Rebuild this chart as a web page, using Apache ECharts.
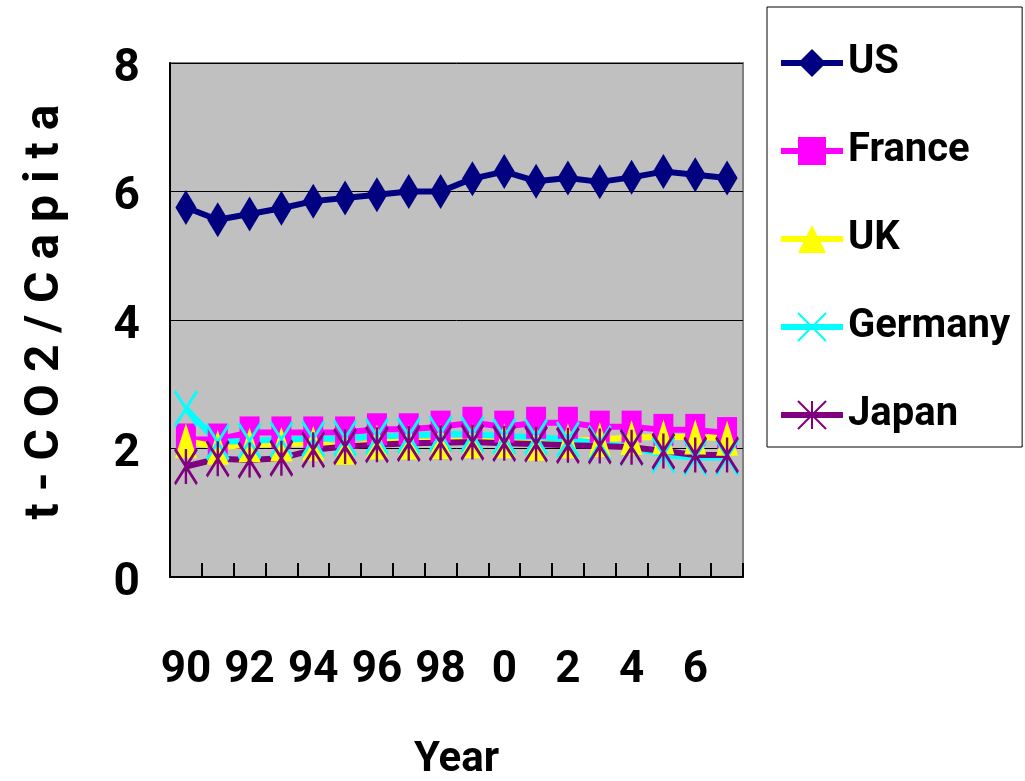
<!DOCTYPE html>
<html>
<head>
<meta charset="utf-8">
<script src="https://cdn.jsdelivr.net/npm/echarts@6/dist/echarts.min.js"></script>
<style>
html,body{margin:0;padding:0;background:#fff;}
#chart{width:1025px;height:781px;}
</style>
</head>
<body>
<div id="chart"></div>
<script>
var categories = ["90","91","92","93","94","95","96","97","98","99","0","1","2","3","4","5","6","7"];
var yTicks = [0, 2, 4, 6, 8];
var usData      = [5.75, 5.56, 5.65, 5.74, 5.85, 5.90, 5.95, 6.00, 6.00, 6.20, 6.31, 6.16, 6.21, 6.15, 6.22, 6.31, 6.26, 6.21];
var franceData  = [2.14, 2.14, 2.25, 2.25, 2.25, 2.25, 2.30, 2.30, 2.34, 2.40, 2.34, 2.40, 2.40, 2.34, 2.34, 2.29, 2.29, 2.24];
var ukData      = [2.12, 2.02, 2.06, 2.07, 2.08, 2.02, 2.10, 2.10, 2.11, 2.12, 2.12, 2.08, 2.12, 2.14, 2.17, 2.18, 2.18, 2.16];
var germanyData = [2.62, 2.10, 2.12, 2.14, 2.15, 2.16, 2.19, 2.20, 2.23, 2.22, 2.19, 2.18, 2.14, 2.08, 2.02, 1.90, 1.86, 1.86];
var japanData   = [1.72, 1.84, 1.82, 1.85, 1.98, 2.03, 2.06, 2.08, 2.09, 2.10, 2.08, 2.07, 2.05, 2.04, 2.02, 1.96, 1.90, 1.90];
var seriesNames = ["US", "France", "UK", "Germany", "Japan"];

var FONT = "Roboto, 'Liberation Sans', sans-serif";
var X_PATH = 'path://M0,0L10,10M10,0L0,10';
var AST_PATH = 'path://M0,0L10,10M10,0L0,10M5,0L5,10';

function lineSeries(name, data, color, symbol, size, stroke) {
  var s = {
    name: name, type: 'line', data: data,
    symbol: symbol, symbolSize: size, showAllSymbol: true,
    lineStyle: { color: color, width: 6 },
    itemStyle: { color: color },
    emphasis: { disabled: true },
    animation: false
  };
  if (stroke) {
    s.itemStyle = { color: color, borderColor: color, borderWidth: 3 };
  }
  return s;
}

var chart = echarts.init(document.getElementById('chart'), null, { renderer: 'canvas' });
chart.setOption({
  backgroundColor: '#ffffff',
  animation: false,
  textStyle: { fontFamily: FONT },
  grid: {
    left: 170, top: 63, width: 573, height: 514,
    show: true, backgroundColor: '#c0c0c0', borderColor: '#808080', borderWidth: 2,
    containLabel: false, outerBoundsMode: 'none'
  },
  legend: {
    orient: 'vertical', left: 767, top: 7,
    padding: [36, 12, 12, 11],
    itemWidth: 62, itemHeight: 35, itemGap: 48, itemTextGap: 10,
    borderColor: '#000', borderWidth: 1, backgroundColor: '#fff',
    lineStyle: { width: 6 },
    textStyle: { fontFamily: FONT, fontWeight: 'bold', fontSize: 40, lineHeight: 35, width: 160, color: '#000' },
    data: seriesNames
  },
  xAxis: {
    type: 'category', data: categories, boundaryGap: true,
    name: 'Year', nameLocation: 'middle', nameGap: 162,
    nameTextStyle: { fontFamily: FONT, fontWeight: 'bold', fontSize: 42, color: '#000' },
    axisLine: { lineStyle: { color: '#000', width: 2 } },
    axisTick: { show: true, inside: true, length: 14, interval: 0, lineStyle: { color: '#000', width: 2 } },
    axisLabel: { interval: 1, margin: 72, fontFamily: FONT, fontWeight: 'bold', fontSize: 44, color: '#000' },
    splitLine: { show: false }
  },
  yAxis: {
    type: 'value', min: yTicks[0], max: yTicks[yTicks.length - 1], interval: 2,
    name: 't - C O 2 / C a p i t a', nameLocation: 'middle', nameGap: 100, nameRotate: 90,
    nameTextStyle: { fontFamily: FONT, fontWeight: 'bold', fontSize: 48, color: '#000', padding: [0, 0, 0, 16] },
    axisLine: { show: true, lineStyle: { color: '#000', width: 2 } },
    axisTick: { show: false },
    axisLabel: {
      margin: 30, color: '#000',
      formatter: '{a|{value}}',
      rich: { a: { fontFamily: FONT, fontWeight: 'bold', fontSize: 46, color: '#000', padding: [12, 0, 0, 0] } }
    },
    splitLine: { show: true, lineStyle: { color: '#000', width: 1 } }
  },
  series: [
    lineSeries('US', usData, '#000080', 'diamond', [21, 35], false),
    lineSeries('France', franceData, '#ff00ff', 'rect', [20, 32], false),
    lineSeries('UK', ukData, '#ffff00', 'triangle', [22, 35], false),
    lineSeries('Germany', germanyData, '#00ffff', X_PATH, [22, 35], true),
    lineSeries('Japan', japanData, '#800080', AST_PATH, [22, 35], true)
  ]
});
</script>
</body>
</html>
